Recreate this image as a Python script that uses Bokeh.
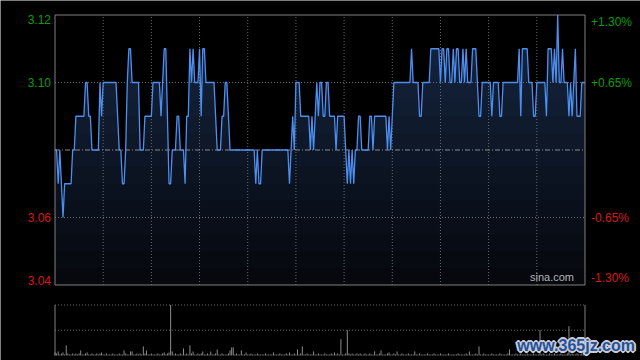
from bokeh.plotting import figure
from bokeh.models import Range1d
from bokeh.core.properties import value
from bokeh.embed import file_html
from bokeh.resources import INLINE

# ---------------- data ----------------
minutes = list(range(331))  # minutes since 09:30 (HK session, lunch removed)

price = [
    3.08, 3.08, 3.07, 3.08, 3.07, 3.06, 3.07, 3.07, 3.07, 3.07,
    3.07, 3.08, 3.08, 3.09, 3.09, 3.09, 3.09, 3.09, 3.09, 3.10,
    3.10, 3.09, 3.09, 3.08, 3.08, 3.08, 3.08, 3.08, 3.10, 3.09,
    3.10, 3.10, 3.10, 3.10, 3.10, 3.10, 3.10, 3.10, 3.10, 3.09,
    3.08, 3.08, 3.07, 3.07, 3.08, 3.10, 3.11, 3.11, 3.10, 3.10,
    3.10, 3.10, 3.10, 3.08, 3.08, 3.08, 3.09, 3.09, 3.09, 3.09,
    3.09, 3.10, 3.10, 3.10, 3.10, 3.10, 3.09, 3.10, 3.11, 3.11,
    3.09, 3.07, 3.07, 3.08, 3.08, 3.08, 3.09, 3.09, 3.08, 3.08,
    3.08, 3.07, 3.09, 3.09, 3.11, 3.10, 3.11, 3.10, 3.10, 3.10,
    3.11, 3.09, 3.11, 3.11, 3.10, 3.10, 3.10, 3.10, 3.10, 3.10,
    3.09, 3.08, 3.08, 3.08, 3.09, 3.09, 3.10, 3.10, 3.09, 3.08,
    3.08, 3.08, 3.08, 3.08, 3.08, 3.08, 3.08, 3.08, 3.08, 3.08,
    3.08, 3.08, 3.08, 3.08, 3.08, 3.07, 3.08, 3.07, 3.07, 3.08,
    3.08, 3.08, 3.08, 3.08, 3.08, 3.08, 3.08, 3.08, 3.08, 3.08,
    3.08, 3.08, 3.08, 3.08, 3.08, 3.08, 3.07, 3.08, 3.09, 3.08,
    3.10, 3.10, 3.10, 3.09, 3.09, 3.09, 3.09, 3.09, 3.09, 3.08,
    3.09, 3.08, 3.09, 3.10, 3.09, 3.10, 3.10, 3.09, 3.09, 3.10,
    3.10, 3.09, 3.09, 3.09, 3.09, 3.08, 3.09, 3.09, 3.09, 3.09,
    3.09, 3.08, 3.07, 3.08, 3.07, 3.08, 3.07, 3.08, 3.08, 3.09,
    3.09, 3.08, 3.08, 3.08, 3.08, 3.08, 3.09, 3.09, 3.08, 3.09,
    3.09, 3.09, 3.09, 3.09, 3.09, 3.09, 3.09, 3.08, 3.09, 3.08,
    3.09, 3.10, 3.10, 3.10, 3.10, 3.10, 3.10, 3.10, 3.10, 3.10,
    3.10, 3.10, 3.11, 3.10, 3.10, 3.10, 3.10, 3.09, 3.09, 3.10,
    3.10, 3.10, 3.10, 3.10, 3.11, 3.11, 3.11, 3.11, 3.11, 3.11,
    3.10, 3.11, 3.11, 3.10, 3.11, 3.11, 3.10, 3.10, 3.11, 3.10,
    3.11, 3.11, 3.10, 3.10, 3.11, 3.10, 3.11, 3.10, 3.10, 3.10,
    3.11, 3.11, 3.11, 3.10, 3.09, 3.09, 3.10, 3.10, 3.10, 3.10,
    3.10, 3.10, 3.09, 3.10, 3.10, 3.10, 3.10, 3.09, 3.09, 3.10,
    3.10, 3.10, 3.10, 3.10, 3.10, 3.10, 3.10, 3.10, 3.10, 3.11,
    3.09, 3.11, 3.11, 3.11, 3.11, 3.10, 3.10, 3.10, 3.09, 3.09,
    3.10, 3.10, 3.10, 3.10, 3.10, 3.10, 3.09, 3.11, 3.11, 3.11,
    3.10, 3.11, 3.10, 3.12, 3.10, 3.10, 3.11, 3.10, 3.10, 3.10,
    3.09, 3.10, 3.09, 3.10, 3.11, 3.09, 3.09, 3.09, 3.10, 3.10,
    3.10,
]

volume = [
    3, 2, 4, 1, 2, 3, 1, 10, 2, 1,
    1, 2, 1, 2, 1, 2, 5, 1, 1, 2,
    3, 1, 1, 2, 1, 1, 2, 1, 2, 3,
    1, 1, 2, 1, 1, 1, 2, 1, 1, 1,
    2, 1, 1, 5, 2, 1, 1, 4, 4, 1,
    1, 2, 1, 2, 1, 9, 2, 5, 1, 1,
    2, 1, 1, 1, 2, 1, 1, 2, 3, 1,
    2, 3, 60, 4, 1, 2, 1, 1, 2, 1,
    7, 1, 2, 1, 10, 2, 4, 1, 1, 2,
    1, 2, 4, 1, 1, 2, 1, 4, 1, 1,
    2, 6, 1, 1, 2, 1, 1, 1, 2, 5,
    8, 8, 1, 2, 1, 1, 5, 1, 1, 3,
    1, 1, 2, 1, 1, 1, 2, 1, 1, 1,
    1, 2, 1, 1, 1, 1, 3, 1, 1, 1,
    2, 1, 1, 1, 2, 1, 3, 1, 1, 2,
    1, 6, 1, 2, 9, 1, 1, 2, 1, 1,
    1, 4, 1, 1, 2, 1, 1, 1, 2, 1,
    1, 1, 2, 1, 3, 1, 2, 1, 16, 1,
    1, 2, 25, 2, 1, 2, 1, 1, 2, 1,
    2, 1, 1, 2, 1, 1, 2, 1, 1, 4,
    1, 1, 2, 5, 1, 1, 1, 2, 3, 1,
    1, 2, 1, 4, 1, 1, 2, 1, 1, 1,
    2, 1, 1, 1, 4, 1, 1, 2, 1, 1,
    1, 1, 2, 1, 1, 1, 2, 1, 1, 1,
    2, 1, 1, 1, 1, 2, 1, 1, 1, 1,
    1, 2, 1, 1, 1, 1, 2, 1, 4, 1,
    1, 1, 2, 1, 9, 1, 1, 2, 1, 1,
    1, 1, 2, 1, 1, 1, 1, 2, 1, 1,
    1, 1, 2, 6, 1, 1, 1, 2, 1, 1,
    2, 1, 1, 1, 2, 1, 1, 1, 2, 1,
    1, 1, 25, 1, 2, 1, 1, 1, 2, 1,
    1, 2, 1, 1, 1, 2, 1, 1, 1, 2,
    29, 1, 2, 1, 1, 2, 1, 1, 2, 3,
    2,
]

prev_close = 3.08
price_ticks = [3.04, 3.06, 3.10, 3.12]
price_labels = ["3.04", "3.06", "3.10", "3.12"]
pct_labels = ["-1.30%", "-0.65%", "+0.65%", "+1.30%"]
time_grid = [30, 60, 90, 120, 150, 180, 210, 240, 270, 300]
vol_grid = [25, 50]
session_start, session_end = 0, 330

# ---------------- style / geometry (pixels) ----------------
W, H = 640, 360
PX_L, PX_R = 54.5, 584.5          # panel left / right
PX_T, PX_B = 14.5, 284.5          # price panel top / bottom
PX_VT, PX_VB = 304.5, 355.0       # volume panel top / bottom

BG = "#000000"
GRID = "#6a6a6a"
BORDER = "#808080"
LINE = "#4d8ff0"
UP = "#0a9e0a"
DOWN = "#d81818"
FONT = "Liberation Sans"

y_lo, y_hi = price_ticks[0], price_ticks[-1]
v_hi = vol_grid[-1]

# ranges chosen so that the panels sit where they do in the picture
ppm = (PX_R - PX_L) / (session_end - session_start)
x_range = Range1d(session_start - PX_L / ppm, session_end + (W - PX_R) / ppm)
ppy = (PX_B - PX_T) / (y_hi - y_lo)
y_range = Range1d(y_lo - (H - PX_B) / ppy, y_hi + PX_T / ppy)
ppv = (PX_VB - PX_VT) / v_hi
vol_range = Range1d(0 - (H - PX_VB) / ppv, v_hi + PX_VT / ppv)

p = figure(width=W, height=H, output_backend="svg", toolbar_location=None,
           x_range=x_range, y_range=y_range,
           x_axis_location=None, y_axis_location=None, min_border=0)
p.extra_y_ranges = {"vol": vol_range}
p.background_fill_color = BG
p.border_fill_color = BG
p.outline_line_color = None
p.grid.visible = False

# ---- price panel ----
# gradient-like fill under the price line (bands painted top -> bottom)
n_bands = 16
top_rgb = (21, 38, 66)
bot_rgb = (6, 8, 13)
for k in range(n_bands):
    hi = y_hi - k * (y_hi - y_lo) / n_bands
    t = k / (n_bands - 1)
    rgb = tuple(int(round(a + (b - a) * t)) for a, b in zip(top_rgb, bot_rgb))
    col = "#%02x%02x%02x" % rgb
    y2 = [min(v, hi) for v in price]
    p.varea(x=minutes, y1=y_lo, y2=y2, fill_color=col, fill_alpha=1.0)

# grid lines
p.segment(x0=time_grid, y0=y_lo, x1=time_grid, y1=y_hi,
          line_color=GRID, line_dash="1 2", line_width=1)
mid_ticks = price_ticks[1:-1]
p.segment(x0=session_start, y0=mid_ticks, x1=session_end, y1=mid_ticks,
          line_color=GRID, line_dash="1 2", line_width=1)
p.segment(x0=session_start, y0=prev_close, x1=session_end, y1=prev_close,
          line_color="#8a8a8a", line_dash="5 2 1 2", line_width=1)

p.line(minutes, price, line_color=LINE, line_width=1.3)

# panel frame
p.quad(left=session_start, right=session_end, bottom=y_lo, top=y_hi,
       fill_color=None, line_color=BORDER, line_width=1)

# price / percent labels
lab_x_l, lab_x_r, lab_y, lab_c, lab_b = [], [], [], [], []
for v, lab, pct in zip(price_ticks, price_labels, pct_labels):
    lab_y.append(v)
    lab_c.append(UP if v > prev_close else DOWN)
    lab_b.append("top" if v == y_hi else ("bottom" if v == y_lo else "middle"))

for i in range(len(price_ticks)):
    p.text(x=[session_start], y=[lab_y[i]], text=[price_labels[i]], x_offset=-4,
           text_align="right", text_baseline=lab_b[i], text_color=lab_c[i],
           text_font=value(FONT), text_font_size="12px")
    p.text(x=[session_end], y=[lab_y[i]], text=[pct_labels[i]], x_offset=6,
           text_align="left", text_baseline=lab_b[i], text_color=lab_c[i],
           text_font=value(FONT), text_font_size="12px")

p.text(x=[session_end], y=[y_lo], text=["sina.com"], x_offset=-11, y_offset=-2,
       text_align="right", text_baseline="bottom", text_color="#b4b4b4",
       text_font=value(FONT), text_font_size="11px")

# ---- volume panel ----
p.segment(x0=session_start, y0=vol_grid, x1=session_end, y1=vol_grid,
          line_color=GRID, line_dash="1 2", line_width=1, y_range_name="vol")
p.segment(x0=[session_start, session_end], y0=0, x1=[session_start, session_end], y1=v_hi,
          line_color=BORDER, line_width=1, y_range_name="vol")
vol_clip = [min(vv, v_hi) for vv in volume]
p.segment(x0=minutes, y0=0, x1=minutes, y1=vol_clip, line_color="#8c8c8c",
          line_width=1, y_range_name="vol")

# site watermark (outlined text)
wm = "www.365jz.com"
for dx, dy in [(-1, -1), (-1, 1), (1, -1), (1, 1), (0, 2), (0, -2), (2, 0), (-2, 0)]:
    p.text(x=[session_end], y=[10], text=[wm], x_offset=50 + dx, y_offset=dy,
           text_align="right", text_baseline="middle", text_color="#c9ccd6",
           text_font=value(FONT), text_font_size="16px", text_font_style="bold",
           y_range_name="vol")
p.text(x=[session_end], y=[10], text=[wm], x_offset=50, text_align="right",
       text_baseline="middle", text_color="#24509c", text_font=value(FONT),
       text_font_size="16px", text_font_style="bold", y_range_name="vol")

open("out.html", "w").write(file_html(p, INLINE))
